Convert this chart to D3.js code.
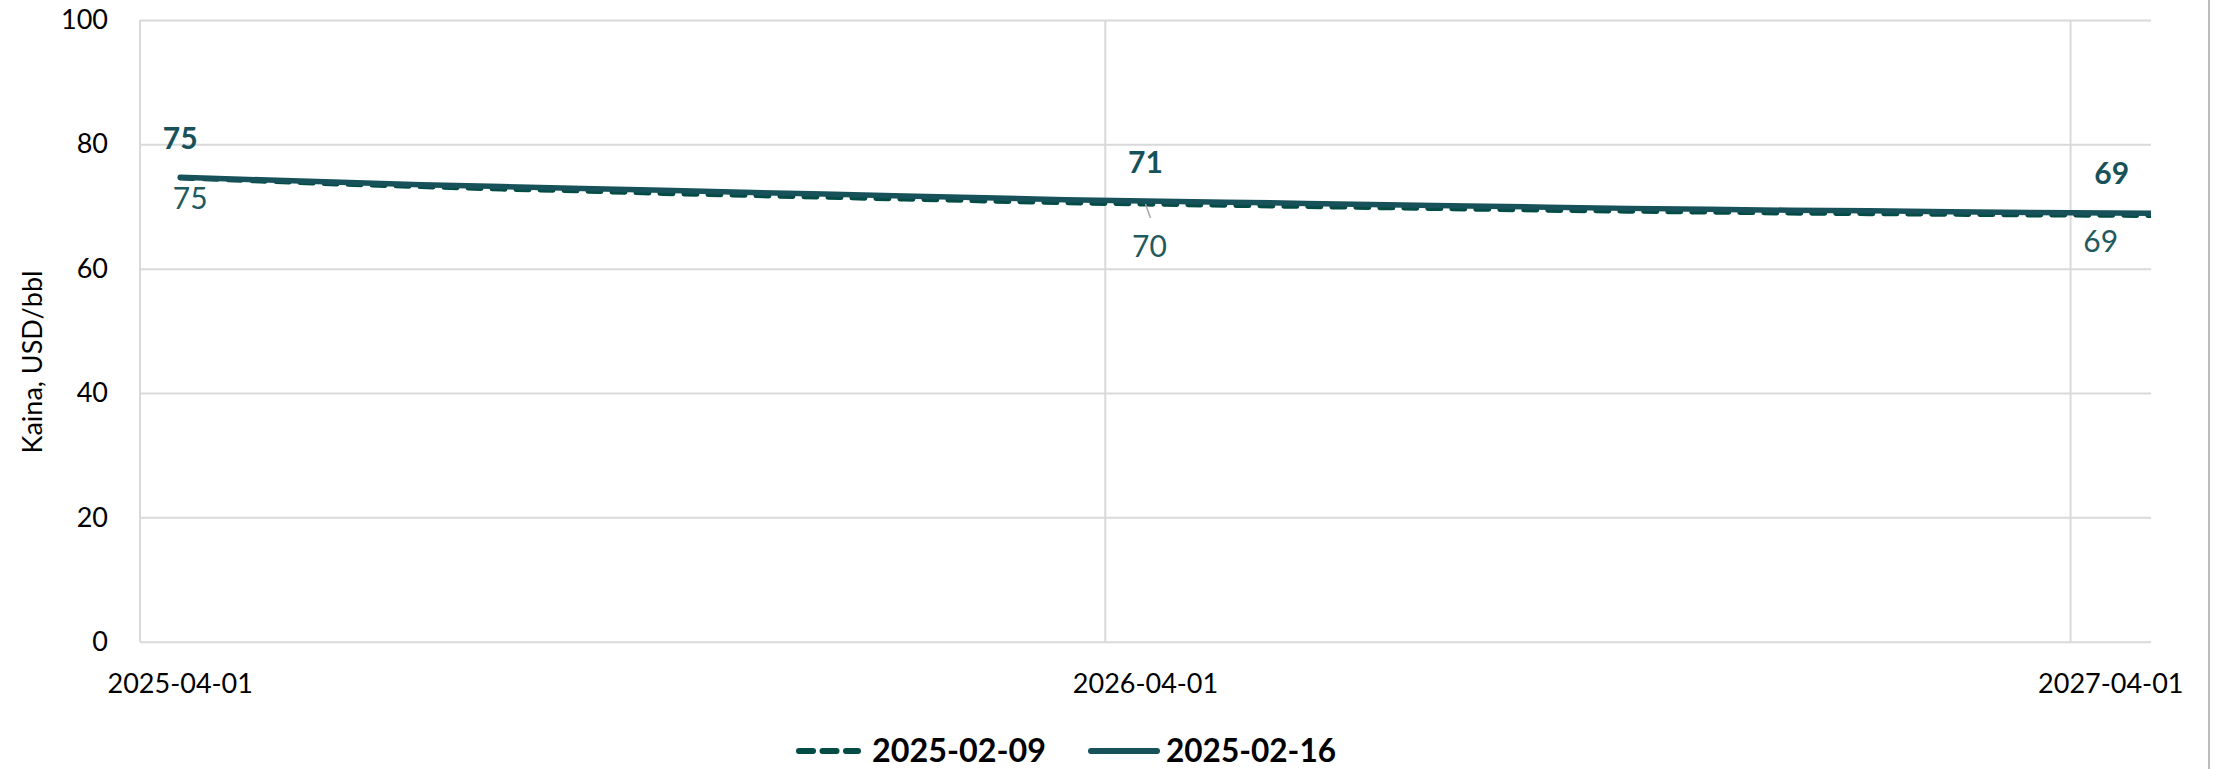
<!DOCTYPE html>
<html>
<head>
<meta charset="utf-8">
<script src="https://cdn.jsdelivr.net/npm/d3@7"></script>
<style>
  html, body { margin: 0; padding: 0; background: #ffffff; }
  svg { display: block; }
  text { font-family: Lato, "Open Sans", sans-serif; }
</style>
</head>
<body>
<svg id="chart" width="2213" height="769"></svg>
<script>
// ---------------- data ----------------
const months = [
  "2025-04-01","2025-05-01","2025-06-01","2025-07-01","2025-08-01","2025-09-01",
  "2025-10-01","2025-11-01","2025-12-01","2026-01-01","2026-02-01","2026-03-01",
  "2026-04-01","2026-05-01","2026-06-01","2026-07-01","2026-08-01","2026-09-01",
  "2026-10-01","2026-11-01","2026-12-01","2027-01-01","2027-02-01","2027-03-01",
  "2027-04-01","2027-05-01"
];
const axisMonthCount = 25;               // axis shows 2025-04 .. 2027-04
const xTickLabels = ["2025-04-01", "2026-04-01", "2027-04-01"];
const yTicks = [0, 20, 40, 60, 80, 100];
const seriesNames = ["2025-02-09", "2025-02-16"];
const values0209 = [74.6, 74.1, 73.6, 73.2, 72.8, 72.5, 72.1, 71.8, 71.5, 71.2, 70.9, 70.6,
                    70.4, 70.2, 70.0, 69.8, 69.6, 69.4, 69.25, 69.1, 68.95, 68.85, 68.75, 68.65,
                    68.6, 68.5];
const values0216 = [74.7, 74.3, 73.9, 73.5, 73.2, 72.9, 72.6, 72.3, 72.0, 71.7, 71.4, 71.1,
                    70.9, 70.7, 70.5, 70.3, 70.1, 69.9, 69.7, 69.55, 69.4, 69.3, 69.15, 69.05,
                    68.95, 68.85];
const labelIndex = [0, 12, 24];
const yTitle = "Kaina, USD/bbl";

// ---------------- layout / style ----------------
const plot = { left: 140, right: 2151, top: 20, bottom: 641.7 };
const colSolid = "#17525a";
const colDash = "#034b45";
const colLabelReg = "#1f5a5e";
const gridCol = "#d9d9d9";
// label offsets (dx, dy from point) for each labelled index
const solidLabelOffset = [[0, -40], [0, -40], [1, -41]];
const dashLabelOffset = [[10, 19], [4, 41], [-10, 25]];

const svg = d3.select("#chart");
const bw = (plot.right - plot.left) / axisMonthCount;

const x = d3.scaleBand()
  .domain(months)
  .range([plot.left, plot.left + bw * months.length])
  .padding(0);
const xc = m => x(m) + x.bandwidth() / 2;

const y = d3.scaleLinear().domain([0, 100]).range([plot.bottom, plot.top]);

// clip
svg.append("defs").append("clipPath").attr("id", "plotClip")
  .append("rect")
  .attr("x", plot.left).attr("y", 0)
  .attr("width", plot.right - plot.left).attr("height", 769);

// horizontal gridlines
const gy = svg.append("g")
  .attr("transform", `translate(${plot.left},0)`)
  .call(d3.axisLeft(y).tickValues(yTicks).tickSize(-(plot.right - plot.left)).tickFormat(""));
gy.select(".domain").remove();
gy.selectAll("line").attr("stroke", gridCol).attr("stroke-width", 2);

// vertical gridlines at tick months (band starts)
const gx = svg.append("g")
  .attr("transform", `translate(${-x.bandwidth() / 2},${plot.bottom})`)
  .call(d3.axisBottom(x).tickValues(xTickLabels).tickSize(-(plot.bottom - plot.top)).tickFormat(""));
gx.select(".domain").remove();
gx.selectAll("line").attr("stroke", gridCol).attr("stroke-width", 2);

// y axis labels
const ya = svg.append("g")
  .attr("transform", `translate(${plot.left},0)`)
  .call(d3.axisLeft(y).tickValues(yTicks).tickSize(0).tickPadding(32));
ya.select(".domain").remove();
ya.selectAll("text")
  .attr("font-family", "Lato, sans-serif")
  .attr("font-size", 27)
  .attr("fill", "#000");

// x axis labels
const xa = svg.append("g")
  .attr("transform", `translate(0,${plot.bottom})`)
  .call(d3.axisBottom(x).tickValues(xTickLabels).tickSize(0).tickPadding(0));
xa.select(".domain").remove();
xa.selectAll("text")
  .attr("font-family", "Lato, sans-serif")
  .attr("font-size", 27)
  .attr("fill", "#000")
  .attr("dy", null)
  .attr("y", 51.5);

// y axis title
svg.append("text")
  .attr("transform", `translate(31,362) rotate(-90)`)
  .attr("text-anchor", "middle")
  .attr("dominant-baseline", "central")
  .attr("font-size", 27)
  .attr("fill", "#000")
  .text(yTitle);

// lines
const line = d3.line().x((d, i) => xc(months[i])).y(d => y(d));
const lines = svg.append("g").attr("clip-path", "url(#plotClip)");
lines.append("path")
  .datum(values0209)
  .attr("d", line)
  .attr("fill", "none")
  .attr("stroke", colDash)
  .attr("stroke-width", 5)
  .attr("stroke-dasharray", "13,11")
  .attr("stroke-linecap", "round");
lines.append("path")
  .datum(values0216)
  .attr("d", line)
  .attr("fill", "none")
  .attr("stroke", colSolid)
  .attr("stroke-width", 5.5)
  .attr("stroke-linecap", "round")
  .attr("stroke-linejoin", "round");

// data labels
const fmt = d3.format(".0f");
const lbl = svg.append("g");
labelIndex.forEach((idx, k) => {
  const px = xc(months[idx]);
  // solid (bold, above)
  lbl.append("text")
    .attr("x", px + solidLabelOffset[k][0])
    .attr("y", y(values0216[idx]) + solidLabelOffset[k][1])
    .attr("text-anchor", "middle")
    .attr("dominant-baseline", "central")
    .attr("font-size", 30)
    .attr("font-weight", 700)
    .attr("fill", colSolid)
    .text(fmt(values0216[idx]));
  // dashed (regular, below)
  const ly = y(values0209[idx]) + dashLabelOffset[k][1];
  const lx = px + dashLabelOffset[k][0];
  lbl.append("text")
    .attr("x", lx)
    .attr("y", ly)
    .attr("text-anchor", "middle")
    .attr("dominant-baseline", "central")
    .attr("font-size", 30)
    .attr("fill", colLabelReg)
    .text(fmt(values0209[idx]));
  if (dashLabelOffset[k][1] > 30) {
    lbl.append("line")
      .attr("x1", px).attr("y1", y(values0209[idx]))
      .attr("x2", px + 5).attr("y2", ly - 27)
      .attr("stroke", "#a6a6a6").attr("stroke-width", 1.5);
  }
});

// legend
const legY = 751;
const lg = svg.append("g");
lg.append("line")
  .attr("x1", 799).attr("x2", 858).attr("y1", legY).attr("y2", legY)
  .attr("stroke", colDash).attr("stroke-width", 6)
  .attr("stroke-dasharray", "14,9.5").attr("stroke-linecap", "round");
lg.append("text")
  .attr("x", 872).attr("y", legY + 11)
  .attr("font-size", 32).attr("font-weight", 700).attr("fill", "#000")
  .attr("textLength", 174).attr("lengthAdjust", "spacingAndGlyphs")
  .text(seriesNames[0]);
lg.append("line")
  .attr("x1", 1091).attr("x2", 1157).attr("y1", legY).attr("y2", legY)
  .attr("stroke", colSolid).attr("stroke-width", 6).attr("stroke-linecap", "round");
lg.append("text")
  .attr("x", 1166).attr("y", legY + 11)
  .attr("font-size", 32).attr("font-weight", 700).attr("fill", "#000")
  .attr("textLength", 170).attr("lengthAdjust", "spacingAndGlyphs")
  .text(seriesNames[1]);

// right border of chart area
svg.append("line")
  .attr("x1", 2209).attr("x2", 2209).attr("y1", 0).attr("y2", 769)
  .attr("stroke", "#a6a6a6").attr("stroke-width", 1.5);
</script>
</body>
</html>
